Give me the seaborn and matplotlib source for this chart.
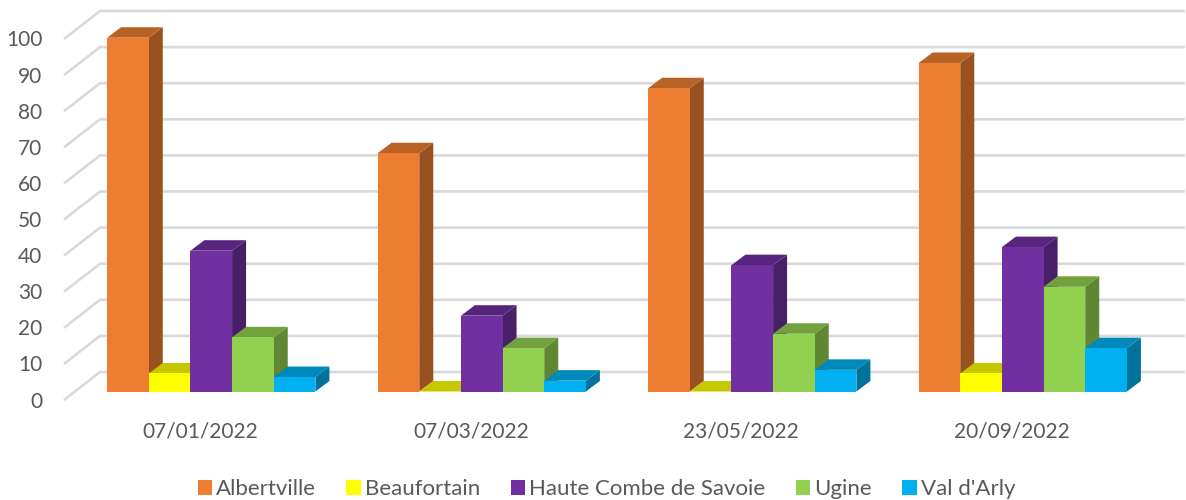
import numpy as np
import pandas as pd
import matplotlib
matplotlib.use("Agg")
import matplotlib.pyplot as plt
import matplotlib.colors as mcolors
from matplotlib.patches import Polygon
from matplotlib.transforms import ScaledTranslation
import seaborn as sns

# ── Data ───────────────────────────────────────────────────
dates = ["07/01/2022", "07/03/2022", "23/05/2022", "20/09/2022"]
albertville = [98, 66, 84, 91]
beaufortain = [5, 0, 0, 5]
haute_combe = [39, 21, 35, 40]
ugine = [15, 12, 16, 29]
val_darly = [4, 3, 6, 12]
y_ticks = list(range(0, 101, 10))

sectors = ["Albertville", "Beaufortain", "Haute Combe de Savoie", "Ugine", "Val d'Arly"]
colors = ["#ED7D31", "#FFFF00", "#7030A0", "#92D050", "#00B0F0"]

df = pd.DataFrame({
    "date": dates,
    sectors[0]: albertville,
    sectors[1]: beaufortain,
    sectors[2]: haute_combe,
    sectors[3]: ugine,
    sectors[4]: val_darly,
}).melt(id_vars="date", var_name="sector", value_name="value")

sns.set_style("white")
plt.rcParams["font.family"] = ["Lato", "DejaVu Sans"]
TEXT = "#595959"

# ── Figure and plain bars (front faces) ────────────────────
fig = plt.figure(figsize=(11.86, 5), dpi=100)
W, H = 1186, 500
ax = fig.add_axes([76 / W, (H - 391.5) / H, (1158 - 76) / W, 361 / H])
sns.barplot(data=df, x="date", y="value", hue="sector", hue_order=sectors,
            palette=colors, saturation=1, width=0.77, gap=0, ax=ax,
            linewidth=0, errorbar=None)
ax.set_xlim(-0.5, 3.5)
ax.set_ylim(0, 100)
ax.set_xlabel("")
ax.set_ylabel("")
sns.despine(ax=ax, left=True, bottom=True)

px_x = (1158 - 76) / 4   # pixels per category
px_y = 3.61              # pixels per value unit


def shade(color, f):
    r, g, b = mcolors.to_rgb(color)
    return (r * f, g * f, b * f)


# ── Fake 3D: depth of the bars ─────────────────────────────
depth_x = 14 / px_x
depth_y = 10.5 / px_y
for c, container in enumerate(ax.containers):
    col = colors[c]
    for g, bar in enumerate(container):
        x0 = bar.get_x()
        x1 = x0 + bar.get_width()
        top = bar.get_height()
        z = 3 + g * 10 + c
        bar.set_zorder(z + 0.2)
        bar.set_clip_on(False)
        side = [(x1, 0), (x1 + depth_x, depth_y), (x1 + depth_x, top + depth_y), (x1, top)]
        lid = [(x0, top), (x1, top), (x1 + depth_x, top + depth_y), (x0 + depth_x, top + depth_y)]
        ax.add_patch(Polygon(side, closed=True, fc=shade(col, 0.65), ec="none", zorder=z, clip_on=False))
        ax.add_patch(Polygon(lid, closed=True, fc=shade(col, 0.78), ec="none", zorder=z + 0.1, clip_on=False))

# ── Back wall grid and left wall diagonals ─────────────────
wall_x0 = -0.5 + 24 / px_x
wall_x1 = 3.5 + 27 / px_x
wall_y = 19.5 / px_y
front_x = -0.5 - 12 / px_x
front_y = -8.5 / px_y
for v in y_ticks:
    ax.plot([front_x, wall_x0, wall_x1], [v + front_y, v + wall_y, v + wall_y],
            color="#D9D9D9", lw=1.9, zorder=1, clip_on=False,
            solid_joinstyle="miter", solid_capstyle="butt")

# ── Ticks ──────────────────────────────────────────────────
ax.set_yticks(y_ticks)
ax.tick_params(axis="y", length=0, pad=24.2, labelsize=15, labelcolor=TEXT)
ax.tick_params(axis="x", length=0, pad=21.3, labelsize=15, labelcolor=TEXT)
down = ScaledTranslation(0, -8 / 100, fig.dpi_scale_trans)
for lab in ax.get_yticklabels():
    lab.set_transform(lab.get_transform() + down)
left = ScaledTranslation(-11 / 100, 0, fig.dpi_scale_trans)
for lab in ax.get_xticklabels():
    lab.set_transform(lab.get_transform() + left)

# ── Legend ─────────────────────────────────────────────────
handles, labels = ax.get_legend_handles_labels()
leg = ax.legend(handles, labels, ncol=5, frameon=False, fontsize=16,
                loc="center", bbox_to_anchor=(606.5 / W, (H - 489) / H),
                bbox_transform=fig.transFigure, handlelength=0.65, handleheight=0.65,
                handletextpad=0.2, columnspacing=1.35, labelcolor=TEXT,
                borderpad=0, borderaxespad=0)
for h in leg.legend_handles:
    h.set_edgecolor("none")

fig.savefig("out.png", dpi=100)
